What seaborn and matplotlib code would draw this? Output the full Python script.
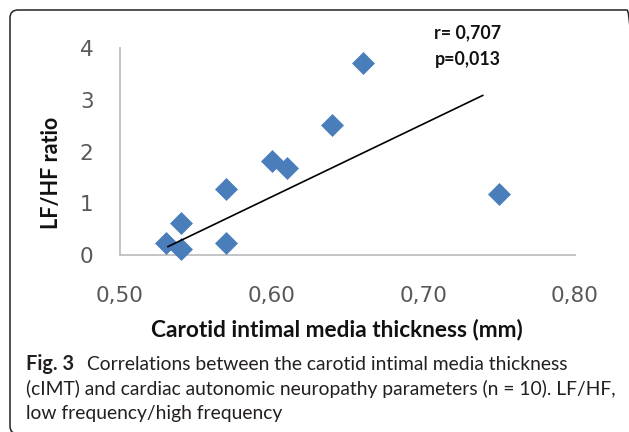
import matplotlib
matplotlib.use("Agg")
import matplotlib.pyplot as plt
import seaborn as sns
import pandas as pd
from matplotlib.patches import FancyBboxPatch
from matplotlib.transforms import IdentityTransform
from matplotlib.ticker import FuncFormatter

# ---- data ----
cimt = [0.53, 0.54, 0.54, 0.57, 0.57, 0.60, 0.61, 0.64, 0.66, 0.75]
lfhf = [0.24, 0.12, 0.61, 1.27, 0.23, 1.82, 1.68, 2.51, 3.71, 1.18]
trend_x = [0.5315, 0.7393]
trend_y = [0.16, 3.09]
x_ticks = [0.50, 0.60, 0.70, 0.80]
y_ticks = [0, 1, 2, 3, 4]
stats_text = ["r= 0,707", "p=0,013"]
x_label = "Carotid intimal media thickness (mm)"
y_label = "LF/HF ratio"
caption_bold = "Fig. 3"
caption_lines = [
    "Correlations between the carotid intimal media thickness",
    "(cIMT) and cardiac autonomic neuropathy parameters (n = 10). LF/HF,",
    "low frequency/high frequency",
]

sns.set_theme(style="white")
plt.rcParams["font.family"] = ["Lato", "DejaVu Sans"]

W, H = 629, 432
fig = plt.figure(figsize=(W / 100, H / 100), dpi=100)
fig.patch.set_facecolor("white")

# rounded frame (pixel coordinates, origin bottom-left)
frame = FancyBboxPatch((10, H - 434), 625, 424,
                       boxstyle="round,pad=0,rounding_size=8",
                       transform=IdentityTransform(), fill=False,
                       edgecolor="#222222", linewidth=1.1)
fig.patches.append(frame)

ax_l, ax_r, ax_t, ax_b = 120, 575, 48.3, 255
ax = fig.add_axes([ax_l / W, (H - ax_b) / H, (ax_r - ax_l) / W, (ax_b - ax_t) / H])

df = pd.DataFrame({"cimt": cimt, "lfhf": lfhf})
sns.scatterplot(data=df, x="cimt", y="lfhf", marker="D", s=125,
                color="#4a7ebb", edgecolor="#4a7ebb", linewidth=0.5,
                ax=ax, clip_on=False, zorder=3)
ax.plot(trend_x, trend_y, color="black", lw=1.2, zorder=4)

ax.set_xlim(0.50, 0.80)
ax.set_ylim(0, 4)
ax.set_xticks(x_ticks)
ax.set_yticks(y_ticks)
ax.xaxis.set_major_formatter(FuncFormatter(lambda v, p: f"{v:.2f}".replace(".", ",")))
ax.yaxis.set_major_formatter(FuncFormatter(lambda v, p: f"{int(round(v))}"))
for s in ["top", "right"]:
    ax.spines[s].set_visible(False)
for s in ["left", "bottom"]:
    ax.spines[s].set_color("#bfbfbf")
    ax.spines[s].set_linewidth(1.3)
ax.tick_params(axis="both", direction="out", color="#bfbfbf", width=1.3,
               labelcolor="#595959", labelsize=15.5, length=7)
for lab in ax.get_xticklabels() + ax.get_yticklabels():
    lab.set_family(["DejaVu Sans"])
ax.tick_params(axis="y", pad=12)
ax.tick_params(axis="x", pad=15)
ax.set_xlabel("")
ax.set_ylabel("")
ax.set_facecolor("none")

# axis labels
fig.text(337 / W, 1 - 330 / H, x_label, ha="center", va="center",
         fontsize=16.3, fontweight="bold", color="#111111")
fig.text(52 / W, 1 - 173 / H, y_label, ha="center", va="center",
         rotation=90, fontsize=15.5, fontweight="bold", color="#111111")

# stats text
fig.text(468 / W, 1 - 33 / H, stats_text[0], ha="center", va="center",
         fontsize=12.8, fontweight="bold", color="#111111")
fig.text(468 / W, 1 - 60 / H, stats_text[1], ha="center", va="center",
         fontsize=12.8, fontweight="bold", color="#111111")

# caption
cap_font = ["Lato", "DejaVu Sans"]
cap_color = "#231f20"
cap_size = 13.9
fig.text(26 / W, 1 - 370 / H, caption_bold, ha="left", va="baseline",
         fontsize=cap_size + 0.4, fontweight="bold", family=cap_font, color=cap_color)
fig.text(87 / W, 1 - 370 / H, caption_lines[0], ha="left", va="baseline",
         fontsize=cap_size, family=cap_font, color=cap_color)
fig.text(26 / W, 1 - 394.5 / H, caption_lines[1], ha="left", va="baseline",
         fontsize=cap_size, family=cap_font, color=cap_color)
fig.text(26 / W, 1 - 419.5 / H, caption_lines[2], ha="left", va="baseline",
         fontsize=cap_size, family=cap_font, color=cap_color)

fig.savefig("out.png", dpi=100)
